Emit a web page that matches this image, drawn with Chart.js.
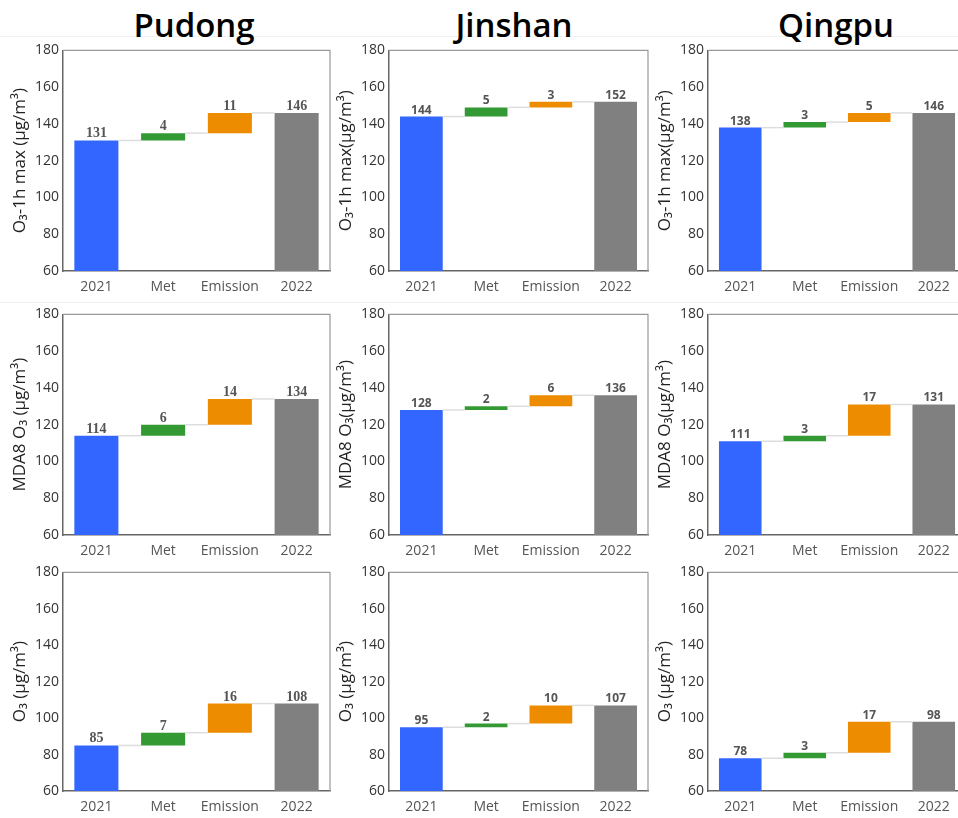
<!DOCTYPE html>
<html>
<head>
<meta charset="utf-8">
<script src="https://cdn.jsdelivr.net/npm/chart.js@4.4.1/dist/chart.umd.min.js"></script>
<style>
body{margin:0;background:#fff;width:958px;height:818px;overflow:hidden;position:relative}
.site{position:absolute;top:8px;width:240px;margin-left:-120px;text-align:center;font:600 33px 'Open Sans',sans-serif;line-height:1;color:#000}
.sep{position:absolute;left:0;width:958px;height:1px;background:#f2f2f2}
canvas{position:absolute}
</style>
</head>
<body>
<div class="sep" style="top:36px"></div>
<div class="sep" style="top:302px"></div>
<div class="site" style="left:194px">Pudong</div>
<div class="site" style="left:514px">Jinshan</div>
<div class="site" style="left:836px">Qingpu</div>
<script>
const sites = ["Pudong", "Jinshan", "Qingpu"]
const categories = ["2021", "Met", "Emission", "2022"]
const yTitles = [
    ["O₃-1h max (μg/m³)", "O₃-1h max(μg/m³)", "O₃-1h max(μg/m³)"],
    ["MDA8 O₃ (μg/m³)", "MDA8 O₃(μg/m³)", "MDA8 O₃(μg/m³)"],
    ["O₃ (μg/m³)", "O₃ (μg/m³)", "O₃ (μg/m³)"]
]
const yMin = 60, yMax = 180, yStep = 20

// O3-1h max, per site
const max1h_2021 = [131, 144, 138]
const max1h_met = [4, 5, 3]
const max1h_emission = [11, 3, 5]
const max1h_2022 = [146, 152, 146]

// MDA8 O3
const mda8_2021 = [114, 128, 111]
const mda8_met = [6, 2, 3]
const mda8_emission = [14, 6, 17]
const mda8_2022 = [134, 136, 131]

// O3
const o3_2021 = [85, 95, 78]
const o3_met = [7, 2, 3]
const o3_emission = [16, 10, 17]
const o3_2022 = [108, 107, 98]

const rows = [
    [max1h_2021, max1h_met, max1h_emission, max1h_2022],
    [mda8_2021, mda8_met, mda8_emission, mda8_2022],
    [o3_2021, o3_met, o3_emission, o3_2022]
]

const barColors = ["#3366ff", "#339933", "#ee8c00", "#808080"]

// plot area placement of each panel
const colLeft = [63, 389, 708]
const colRight = [330, 648, 966]
const rowTop = [50, 314, 572]
const rowBottom = [271, 535, 791]
const axisW = 63, axisH = 30, padTop = 12, padRight = 10

function makePlugin(levels, labels, font){
    return {
        id: "waterfall",
        afterDatasetsDraw(chart){
            const ctx = chart.ctx
            const bars = chart.getDatasetMeta(0).data
            const y = chart.scales.y
            const area = chart.chartArea
            ctx.save()
            // connector lines
            ctx.strokeStyle = "#dddddd"
            ctx.lineWidth = 1.5
            for (let i = 0; i < bars.length - 1; i++){
                const py = y.getPixelForValue(levels[i])
                ctx.beginPath()
                ctx.moveTo(bars[i].x + bars[i].width / 2, py)
                ctx.lineTo(bars[i + 1].x - bars[i + 1].width / 2, py)
                ctx.stroke()
            }
            // value labels
            ctx.fillStyle = "#555"
            ctx.font = font
            ctx.textAlign = "center"
            ctx.textBaseline = "alphabetic"
            bars.forEach(function(b, i){
                ctx.fillText(labels[i], b.x, Math.min(b.y, b.base) - 3)
            })
            // top and right frame
            ctx.strokeStyle = "#999"
            ctx.lineWidth = 1.2
            ctx.beginPath()
            ctx.moveTo(area.left, area.top)
            ctx.lineTo(area.right, area.top)
            ctx.lineTo(area.right, area.bottom)
            ctx.stroke()
            ctx.restore()
        }
    }
}

rows.forEach(function(row, r){
    sites.forEach(function(site, c){
        const v2021 = row[0][c], met = row[1][c], emis = row[2][c], v2022 = row[3][c]
        const data = [v2021, [v2021, v2021 + met], [v2021 + met, v2022], v2022]
        const levels = [v2021, v2021 + met, v2022]
        const labels = [v2021, met, emis, v2022]
        const font = c == 0 ? "bold 14px 'Liberation Serif', serif" : "bold 12px 'Open Sans', sans-serif"

        const canvas = document.createElement("canvas")
        const w = colRight[c] - colLeft[c] + axisW + padRight
        const h = rowBottom[r] - rowTop[r] + padTop + axisH
        canvas.width = w
        canvas.height = h
        canvas.style.left = (colLeft[c] - axisW) + "px"
        canvas.style.top = (rowTop[r] - padTop) + "px"
        canvas.style.width = w + "px"
        canvas.style.height = h + "px"
        document.body.appendChild(canvas)

        new Chart(canvas, {
            type: "bar",
            data: {
                labels: categories,
                datasets: [{
                    data: data,
                    backgroundColor: barColors,
                    borderWidth: 0,
                    barPercentage: 0.66,
                    categoryPercentage: 1
                }]
            },
            plugins: [makePlugin(levels, labels, font)],
            options: {
                responsive: false,
                animation: false,
                events: [],
                layout: {padding: {top: padTop, right: padRight, left: 0, bottom: 0}},
                plugins: {
                    legend: {display: false},
                    tooltip: {enabled: false}
                },
                scales: {
                    x: {
                        grid: {display: false, drawTicks: false},
                        border: {display: true, color: "#666", width: 1.5},
                        ticks: {color: "#555", padding: 8, font: {family: "'Open Sans', sans-serif", size: 14}},
                        afterFit: function(s){ s.height = axisH }
                    },
                    y: {
                        min: yMin,
                        max: yMax,
                        grid: {display: false, drawTicks: false},
                        border: {display: true, color: "#666", width: 1.5},
                        ticks: {stepSize: yStep, color: "#333", padding: 4, font: {family: "'Open Sans', sans-serif", size: 14}},
                        title: {
                            display: true,
                            text: yTitles[r][c],
                            color: "#222",
                            padding: {top: 10, bottom: 0},
                            font: {family: "'Open Sans', 'Noto Sans', sans-serif", size: 17}
                        },
                        afterFit: function(s){ s.width = axisW }
                    }
                }
            }
        })
    })
})
</script>
</body>
</html>
